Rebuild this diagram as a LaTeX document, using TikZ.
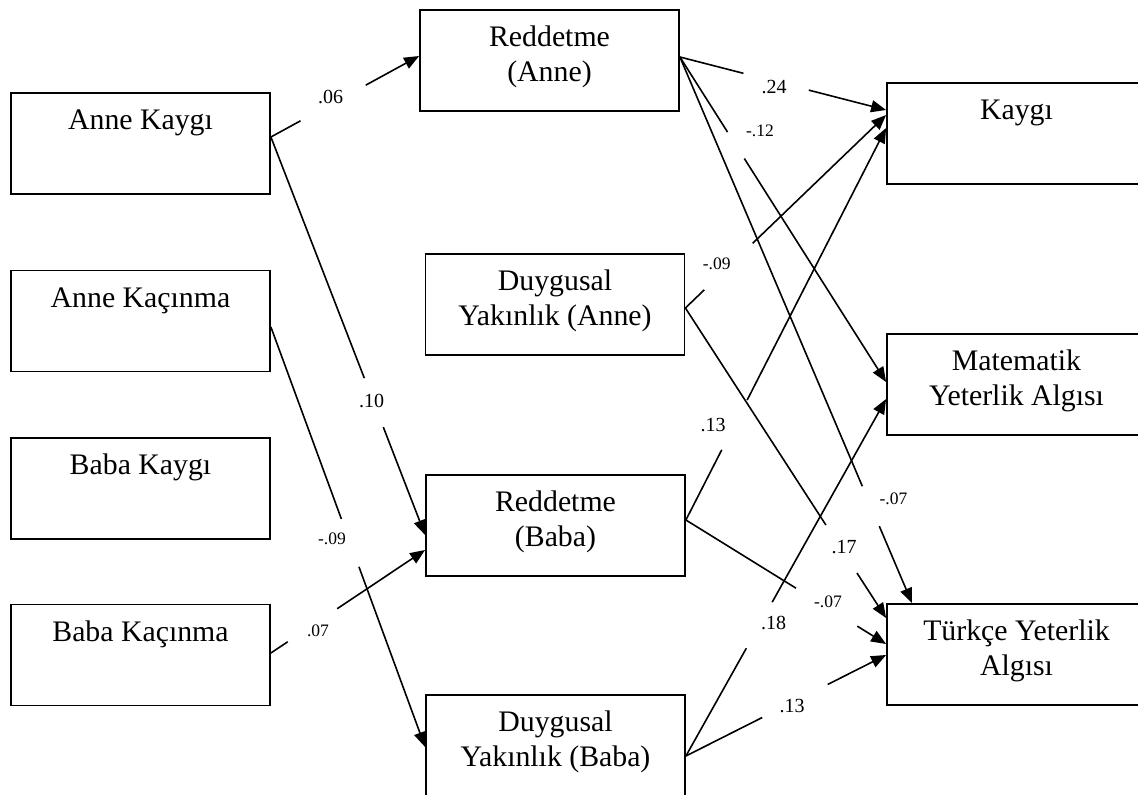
\documentclass[tikz,border=0pt]{standalone}
\usepackage{fontspec}
\setmainfont{Liberation Serif}
\usetikzlibrary{arrows.meta,calc}
\newcommand\gapconn[4]{%
  \draw[conn] (#1) -- ($(#1)!#3!(#2)$);
  \draw[conn,-{Triangle[length=15pt,width=12pt]}] ($(#1)!#4!(#2)$) -- (#2);}
\begin{document}
\begin{tikzpicture}[x=1pt,y=-1pt,
  box/.style={draw,line width=1.8pt,minimum width=259pt,minimum height=101pt,inner sep=0pt},
  btxt/.style={anchor=base,inner sep=0pt,font=\fontsize{29.8}{35}\selectfont},
  conn/.style={line width=1.6pt},
  lab/.style={inner sep=0pt,font=\fontsize{20}{23}\selectfont},
  labs/.style={inner sep=0pt,font=\fontsize{17.5}{20}\selectfont}]
\useasboundingbox (0,0) rectangle (1138,795);
\clip (0,0) rectangle (1138,795);
% boxes
\node[box] (ak)  at (140.5,143.5) {};
\node[box] (akc) at (140.5,321) {};
\node[box] (bk)  at (140.5,488.5) {};
\node[box] (bkc) at (140.5,655) {};
\node[box] (ra)  at (549.5,60.5) {};
\node[box] (da)  at (555,304.5) {};
\node[box] (rb)  at (555.5,525.5) {};
\node[box] (db)  at (555.5,745.5) {};
\node[box] (ky)  at (1016.5,133.5) {};
\node[box] (my)  at (1016.5,384.5) {};
\node[box] (ty)  at (1016.5,654.5) {};
% texts
\node[btxt] (akt) at ($(ak.north)+(0,37.5)$) {Anne Kaygı};
\node[btxt] (akct) at ($(akc.north)+(0,37.5)$) {Anne Kaçınma};
\node[btxt] (bkt) at ($(bk.north)+(0,37.5)$) {Baba Kaygı};
\node[btxt] (bkct) at ($(bkc.north)+(0,37.5)$) {Baba Kaçınma};
\node[btxt] (rat1) at ($(ra.north)+(0,37.5)$) {Reddetme};
\node[btxt] (rat2) at ($(ra.north)+(0,72.5)$) {(Anne)};
\node[btxt] (dat1) at ($(da.north)+(0,37.5)$) {Duygusal};
\node[btxt] (dat2) at ($(da.north)+(0,72.5)$) {Yakınlık (Anne)};
\node[btxt] (rbt1) at ($(rb.north)+(0,37.5)$) {Reddetme};
\node[btxt] (rbt2) at ($(rb.north)+(0,72.5)$) {(Baba)};
\node[btxt] (dbt1) at ($(db.north)+(0,37.5)$) {Duygusal};
\node[btxt] (dbt2) at ($(db.north)+(0,72.5)$) {Yakınlık (Baba)};
\node[btxt] (kyt) at ($(ky.north)+(0,37.5)$) {Kaygı};
\node[btxt] (myt1) at ($(my.north)+(0,37.5)$) {Matematik};
\node[btxt] (myt2) at ($(my.north)+(0,72.5)$) {Yeterlik Algısı};
\node[btxt] (tyt1) at ($(ty.north)+(0,37.5)$) {Türkçe Yeterlik};
\node[btxt] (tyt2) at ($(ty.north)+(0,72.5)$) {Algısı};
% connector end points
\coordinate (p1s) at ($(ak.east)+(0,-6.5)$);
\coordinate (p1e) at ($(ra.west)+(0,-4.5)$);
\coordinate (p2e) at ($(rb.west)+(0,9.5)$);
\coordinate (p3s) at ($(akc.east)+(0,6)$);
\coordinate (p3e) at ($(db.west)+(0,1.5)$);
\coordinate (p4s) at ($(bkc.east)+(0,-2)$);
\coordinate (p4e) at ($(rb.west)+(0,24.5)$);
\coordinate (p5s) at ($(ra.east)+(0,-3.5)$);
\coordinate (p5e) at ($(ky.west)+(0,-23.5)$);
\coordinate (p6e) at ($(my.west)+(0,-2.5)$);
\coordinate (p7e) at ($(ty.north)+(-104.5,0)$);
\coordinate (p8s) at ($(da.east)+(0,3.5)$);
\coordinate (p8e) at ($(ky.west)+(0,-18.5)$);
\coordinate (p9e) at ($(ty.west)+(0,-36.5)$);
\coordinate (p10s) at ($(rb.east)+(0,-5.5)$);
\coordinate (p10e) at ($(ky.west)+(0,-5.5)$);
\coordinate (p11e) at ($(ty.west)+(0,-10.5)$);
\coordinate (p12s) at ($(db.east)+(0,10.5)$);
\coordinate (p12e) at ($(my.west)+(0,14.5)$);
\coordinate (p13e) at ($(ty.west)+(0,0.5)$);
% connectors
\gapconn{p1s}{p1e}{0.2}{0.64}
\gapconn{p1s}{p2e}{0.606}{0.729}
\gapconn{p3s}{p3e}{0.457}{0.571}
\gapconn{p4s}{p4e}{0.109}{0.43}
\gapconn{p5s}{p5e}{0.308}{0.625}
\gapconn{p5s}{p6e}{0.231}{0.3125}
\gapconn{p5s}{p7e}{0.786}{0.859}
\gapconn{p8s}{p8e}{0.094}{0.335}
\gapconn{p8s}{p9e}{0.70}{0.855}
\gapconn{p10s}{p10e}{0.179}{0.306}
\gapconn{p10s}{p11e}{0.55}{0.856}
\gapconn{p12s}{p12e}{0.302}{0.431}
\gapconn{p12s}{p13e}{0.381}{0.708}
% labels
\node[lab]  (l1)  at (330.7,96.7) {.06};
\node[lab]  (l2)  at (371.7,400.5) {.10};
\node[labs] (l3)  at (332,539) {-.09};
\node[labs] (l4)  at (318,631) {.07};
\node[lab]  (l5)  at (774,87) {.24};
\node[labs] (l6)  at (760,131) {-.12};
\node[labs] (l7)  at (893.5,499) {-.07};
\node[labs] (l8)  at (716.7,264) {-.09};
\node[lab]  (l9)  at (844,547) {.17};
\node[lab]  (l10) at (713,425) {.13};
\node[labs] (l11) at (828,602) {-.07};
\node[lab]  (l12) at (773.7,623) {.18};
\node[lab]  (l13) at (792,706) {.13};
\end{tikzpicture}
\end{document}
